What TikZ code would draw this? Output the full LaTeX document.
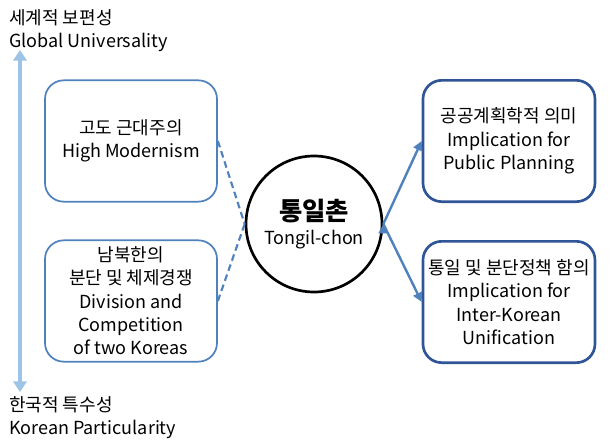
\documentclass[tikz,border=0pt]{standalone}
\usepackage{fontspec}
\setmainfont{Noto Sans CJK KR}
\usetikzlibrary{arrows.meta,positioning}
\definecolor{boxblue}{HTML}{4F81BD}
\definecolor{darkblue}{HTML}{2F5597}
\definecolor{axisblue}{HTML}{9DC3E6}
\begin{document}
\begin{tikzpicture}[x=0.75pt,y=-0.75pt,
	font=\fontsize{13.5}{17.5}\selectfont,
		leftbox/.style = {draw=boxblue, line width=1.3pt, rounded corners=14pt,
									 minimum width=129pt, minimum height=91pt, align=center},
	 rightbox/.style = {leftbox, draw=darkblue, line width=2pt},
		 label/.style = {anchor=west, inner sep=0pt}]
\useasboundingbox (0,0) rectangle (615,446);

\node [leftbox]  (modern)   at (131,141) {고도 근대주의\\High Modernism};
\node [leftbox]  (division) at (131,301) {남북한의\\분단 및 체제경쟁\\Division and\\Competition\\of two Koreas};
\node [draw, circle, line width=2pt, minimum size=102pt, align=center]
	(chon) at (314,224) {{\fontsize{19}{24}\selectfont\bfseries 통일촌}\\Tongil-chon};
\node [rightbox] (planning) at (509,141) {공공계획학적 의미\\Implication for\\Public Planning};
\node [rightbox] (unify)    at (509,302) {통일 및 분단정책 함의\\Implication for\\Inter-Korean\\Unification};

%
\node [label] (global) at (9,18)  {세계적 보편성};
\node [label]          at (9,42)  {Global Universality};
\node [label] (korean) at (9,405) {한국적 특수성};
\node [label]          at (9,429) {Korean Particularity};
\coordinate (top) at (20,50);
\coordinate (bot) at (20,392);

%%
\draw [axisblue, line width=3pt, {Triangle[width=10pt,length=8pt]}-{Triangle[width=10pt,length=8pt]}]
	(top) -- (bot);
\draw [boxblue, line width=1.6pt, dash pattern=on 5pt off 3pt]
	(modern.east) -- (chon.west)
	(division.east) -- (chon.west);
\draw [boxblue, line width=1.8pt, -{Triangle[width=7pt,length=7pt]}]
	(chon.east) edge (planning.west)
	(chon.east) edge (unify.west);
\end{tikzpicture}
\end{document}
